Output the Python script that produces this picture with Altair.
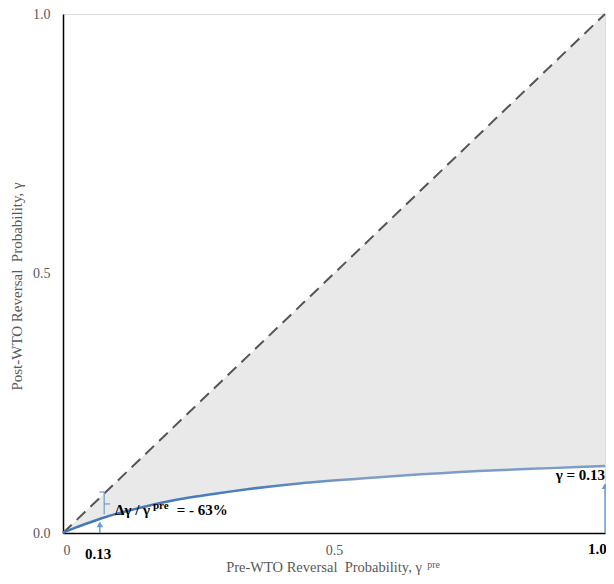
import altair as alt
import pandas as pd

# Curve: post-WTO reversal probability vs pre-WTO reversal probability
gamma_pre = [0, 0.01, 0.03, 0.07, 0.14, 0.20, 0.25, 0.33, 0.44, 0.55, 0.66, 0.80, 0.90, 1.0]
gamma_post = [0, 0.005, 0.013, 0.028, 0.048, 0.062, 0.071, 0.083, 0.096, 0.105, 0.113, 0.121, 0.125, 0.129]

diag_x = [0, 1]
diag_y = [0, 1]

x_tick_values = [0, 0.5]
y_tick_values = [0, 0.5, 1.0]

# Bold x labels
bold_x_labels = ["0.13", "1.0"]
bold_x_pos = [0.065, 0.986]
bold_x_base = [-0.050, -0.040]

# Arrows (x, from, to, head)
arrow_x = [0.068, 1.0]
arrow_y0 = [0.0, 0.0]
arrow_y1 = [0.014, 0.088]
arrow_head = [0.0165, 0.0905]

FONT = "Liberation Serif"
ARROW = "#6d9bd0"
GRAY_TXT = "#595959"

curve = pd.DataFrame({"gpre": gamma_pre, "g": gamma_post})

x_scale = alt.Scale(domain=[0, 1], nice=False, zero=False)
y_scale = alt.Scale(domain=[0, 1], nice=False, zero=False)

x_axis = alt.Axis(values=x_tick_values, ticks=False, grid=False, domainColor="black",
                  domainWidth=1.5, labelFont=FONT, labelFontSize=14, labelColor=GRAY_TXT,
                  labelPadding=10, title=None,
                  labelExpr="datum.value == 0 ? '0' : format(datum.value, '.1f')")
y_axis = alt.Axis(values=y_tick_values, ticks=False, grid=False, domainColor="black",
                  domainWidth=1.5, labelFont=FONT, labelFontSize=14, labelColor=GRAY_TXT,
                  labelPadding=13, title=None, format=".1f")

area = alt.Chart(curve).mark_area(color="#e9e9e9", opacity=1, interpolate="monotone").encode(
    x=alt.X("gpre:Q", scale=x_scale, axis=x_axis),
    y=alt.Y("g:Q", scale=y_scale, axis=y_axis),
    y2=alt.Y2("gpre:Q"),
)

diag = alt.Chart(pd.DataFrame({"x": diag_x, "y": diag_y})).mark_line(
    color="#555555", strokeWidth=2, strokeDash=[12, 7]
).encode(x=alt.X("x:Q", scale=x_scale), y=alt.Y("y:Q", scale=y_scale))

line = alt.Chart(curve).mark_line(
    strokeWidth=2.5, interpolate="monotone",
    stroke=alt.Gradient(
        gradient="linear", x1=0, x2=1, y1=0, y2=0,
        stops=[alt.GradientStop(color="#4477b8", offset=0),
               alt.GradientStop(color="#4a7ebb", offset=0.35),
               alt.GradientStop(color="#7e9ec7", offset=0.55),
               alt.GradientStop(color="#7a9cc8", offset=1)]),
).encode(x=alt.X("gpre:Q", scale=x_scale), y=alt.Y("g:Q", scale=y_scale))

# Bracket marking the gap at gamma_pre ~ 0.13
br = pd.DataFrame({
    "x": [0.076, 0.067, 0.076],
    "x2": [0.076, 0.076, 0.087],
    "y": [0.079, 0.079, 0.056],
    "y2": [0.036, 0.079, 0.056],
})
bracket = alt.Chart(br).mark_rule(color=ARROW, strokeWidth=1.2).encode(
    x=alt.X("x:Q", scale=x_scale), x2="x2:Q",
    y=alt.Y("y:Q", scale=y_scale), y2="y2:Q")

arr = pd.DataFrame({"x": arrow_x, "y0": arrow_y0, "y1": arrow_y1, "h": arrow_head})
arrow_lines = alt.Chart(arr).mark_rule(color=ARROW, strokeWidth=1.5).encode(
    x=alt.X("x:Q", scale=x_scale), y=alt.Y("y0:Q", scale=y_scale), y2="y1:Q")
arrow_heads = alt.Chart(arr).mark_point(shape="triangle-up", filled=True, color=ARROW,
                                        size=45, opacity=1).encode(
    x=alt.X("x:Q", scale=x_scale), y=alt.Y("h:Q", scale=y_scale))


def txt(df, **kw):
    return alt.Chart(df).mark_text(font=FONT, **kw).encode(
        x=alt.X("x:Q", scale=x_scale), y=alt.Y("y:Q", scale=y_scale), text="t:N")


bold_lbls = txt(pd.DataFrame({"x": bold_x_pos, "y": bold_x_base, "t": bold_x_labels}),
                fontSize=15, fontWeight="bold", color="black", align="center",
                baseline="alphabetic")

ann_main_r = txt(pd.DataFrame({"x": [1.0], "y": [0.102], "t": ["γ = 0.13"]}),
                 fontSize=15, fontWeight="bold", color="black", align="right",
                 baseline="alphabetic")
ann_main = txt(pd.DataFrame({"x": [0.096, 0.210], "y": [0.0347, 0.0347],
                             "t": ["Δγ / γ", "= - 63%"]}),
               fontSize=15, fontWeight="bold", color="black", align="left",
               baseline="alphabetic")
ann_sup = txt(pd.DataFrame({"x": [0.166], "y": [0.047], "t": ["pre"]}),
              fontSize=11, fontWeight="bold", color="black", align="left",
              baseline="alphabetic")

x_title = txt(pd.DataFrame({"x": [0.301], "y": [-0.0751],
                            "t": ["Pre-WTO Reversal\u00a0 Probability, γ"]}),
              fontSize=14.5, color=GRAY_TXT, align="left", baseline="alphabetic")
x_title_sup = txt(pd.DataFrame({"x": [0.672], "y": [-0.068], "t": ["pre"]}),
                  fontSize=10, color=GRAY_TXT, align="left", baseline="alphabetic")
y_title = txt(pd.DataFrame({"x": [-0.085], "y": [0.475],
                            "t": ["Post-WTO Reversal\u00a0 Probability, γ"]}),
              fontSize=15, color=GRAY_TXT, align="center", baseline="middle", angle=270)

chart = alt.layer(
    area, diag, line, bracket, arrow_lines, arrow_heads,
    bold_lbls, ann_main, ann_main_r, ann_sup, x_title, x_title_sup, y_title
).properties(
    width=542, height=519,
    autosize=alt.AutoSizeParams(type="none"),
    padding={"left": 55, "top": 6, "right": 1, "bottom": 48},
).configure_view(stroke=None).configure(background="white")

chart.save("out.html", embed_options={"renderer": "svg", "actions": False})
